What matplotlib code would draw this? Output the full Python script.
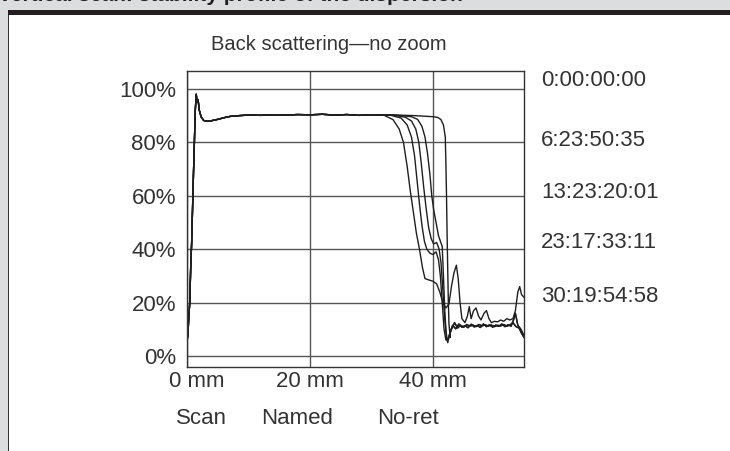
import matplotlib
matplotlib.use("Agg")
import matplotlib.pyplot as plt
import matplotlib.transforms as mtransforms
from matplotlib.patches import Rectangle

plt.rcParams['font.family'] = ['Liberation Sans', 'DejaVu Sans']

# ---- data (mm along the tube, backscattering %) ----
scan_times = ['0:00:00:00', '6:23:50:35', '13:23:20:01', '23:17:33:11', '30:19:54:58']
x_ticks = [0, 20, 40]
x_tick_labels = ['0 mm', '20 mm', '40 mm']
y_ticks = [0, 20, 40, 60, 80, 100]
y_tick_labels = ['0%', '20%', '40%', '60%', '80%', '100%']
footer_labels = ['Scan', 'Named', 'No-ret']

# common start of every scan
start_mm = [0.0, 0.15, 0.3, 0.45, 0.6, 0.75, 0.9, 1.05, 1.2, 1.35, 1.5, 1.65, 1.8,
            2.0, 2.3, 2.7, 3.2, 4.0, 5.0, 6.0, 7.0, 8.5, 10.0, 12.0, 14.0, 16.0,
            18.0, 20.0, 22.0, 24.0, 26.0, 28.0, 30.0, 31.5]
start_pct = [5.5, 8, 15, 20, 33, 42, 55, 68, 80, 92, 98, 95, 96, 92, 89.5, 88.2,
             87.9, 88.1, 88.6, 89.2, 89.7, 90.0, 90.2, 90.1, 90.3, 90.2, 90.4, 90.3,
             90.5, 90.2, 90.4, 90.1, 90.3, 90.2]

# clarification front for each scan
drop0_mm = [34.0, 37.0, 40.0, 40.8, 41.3, 41.7, 42.0, 42.1, 42.2, 42.3, 42.4, 42.5, 42.6, 42.8]
drop0_pct = [90.2, 90.0, 89.6, 89.3, 88.5, 86.5, 82, 72, 60, 45, 32, 20, 12, 7]

drop1_mm = [34.0, 36.5, 37.5, 38.2, 38.7, 39.1, 39.5, 39.8, 40.1, 40.5, 40.9, 41.2,
            41.5, 41.7, 41.9, 42.1, 42.3]
drop1_pct = [90.2, 89.6, 88.6, 86, 82, 76, 68, 60, 55, 50, 45, 43, 41, 30, 18, 10, 6]

drop2_mm = [33.5, 35.5, 36.5, 37.2, 37.7, 38.1, 38.5, 38.9, 39.3, 39.7, 40.1, 40.6,
            41.0, 41.3, 41.6, 41.9, 42.2]
drop2_pct = [90.2, 89.4, 88, 85, 80, 72, 63, 55, 48, 44, 42, 42.5, 40, 35, 25, 14, 7]

drop3_mm = [33.0, 34.8, 35.8, 36.5, 37.0, 37.4, 37.8, 38.2, 38.6, 39.0, 39.5, 40.0,
            40.5, 40.9, 41.2, 41.5, 41.8, 42.1]
drop3_pct = [90.2, 89.1, 86.5, 82, 75, 66, 57, 49, 43, 40, 38.5, 38, 39, 36, 30, 20, 10, 6]

drop4_mm = [32.0, 33.5, 34.5, 35.2, 35.8, 36.3, 36.8, 37.3, 37.8, 38.3, 38.7, 39.3,
            40.0, 40.6, 41.1, 41.6, 42.1, 42.6, 43.0, 43.4, 43.8, 44.1, 44.4, 44.7,
            45.2, 45.6, 45.9, 46.2, 46.6, 47.0, 47.4, 47.8, 48.3, 48.7, 49.1, 49.5,
            50.0, 50.5, 51.0, 51.5, 52.0, 52.5, 53.0, 53.4, 53.8, 54.1, 54.4, 54.8]
drop4_pct = [90.2, 88.5, 85, 80, 71, 62, 54, 46, 40, 33, 29, 28.5, 28, 27, 24, 20,
             18, 19.5, 26, 31, 34, 29, 20, 14, 12.5, 15, 18.5, 14, 17, 18, 15, 13.5,
             16, 17, 14, 12.5, 13, 12.8, 13.5, 13, 14, 13.5, 14, 17, 24, 26, 23, 22]

# settled bottom region (two slightly different noisy tails)
tail_a_mm = [42.4, 42.7, 43.0, 43.5, 44.0, 44.5, 45.0, 45.5, 46.0, 46.5, 47.0, 47.5,
             48.0, 48.5, 49.0, 49.5, 50.0, 50.5, 51.0, 51.5, 52.0, 52.5, 53.0, 53.5,
             54.0, 54.4, 54.8]
tail_a_pct = [5, 8, 10, 12.5, 10.5, 11.5, 10.8, 11.8, 11.2, 11.6, 11.0, 11.8, 11.3,
              11.7, 11.2, 11.6, 11.0, 11.5, 11.3, 11.8, 11.2, 11.6, 12.5, 11.0, 10.5,
              8.5, 7]
tail_b_mm = [42.5, 42.8, 43.2, 43.7, 44.2, 44.7, 45.2, 45.7, 46.2, 46.7, 47.2, 47.7,
             48.2, 48.7, 49.2, 49.7, 50.2, 50.7, 51.2, 51.7, 52.2, 52.7, 53.1, 53.4,
             53.8, 54.3, 54.8]
tail_b_pct = [6.5, 9, 11.5, 10.2, 12.0, 10.8, 11.4, 10.6, 11.9, 10.9, 11.5, 10.7,
              12.0, 11.0, 11.7, 10.8, 11.6, 11.1, 12.0, 11.0, 11.7, 11.2, 13.5, 16,
              11.5, 10.0, 7.5]

curves_mm = [
    start_mm + drop0_mm + tail_a_mm[1:],
    start_mm + drop1_mm + tail_b_mm,
    start_mm + drop2_mm + tail_a_mm,
    start_mm + drop3_mm + tail_b_mm,
    start_mm + drop4_mm,
]
curves_pct = [
    start_pct + drop0_pct + tail_a_pct[1:],
    start_pct + drop1_pct + tail_b_pct,
    start_pct + drop2_pct + tail_a_pct,
    start_pct + drop3_pct + tail_b_pct,
    start_pct + drop4_pct,
]

W, H = 730, 451
fig = plt.figure(figsize=(W / 100, H / 100), dpi=100)
fig.patch.set_facecolor('#dcdddf')

# panel frame: white area with dark top bar (behind the axes)
fig.patches.append(Rectangle((9 / W, 0), 1, 1 - 15 / H, transform=fig.transFigure,
                             facecolor='white', edgecolor='none', zorder=-3))
fig.patches.append(Rectangle((8 / W, 1 - 15 / H), 1, 5 / H, transform=fig.transFigure,
                             facecolor='#231f20', edgecolor='none', zorder=-2))
fig.patches.append(Rectangle((8 / W, 0), 1.2 / W, 1 - 15 / H, transform=fig.transFigure,
                             facecolor='#333333', edgecolor='none', zorder=-2))

# header text, mostly cut off by the top edge
fig.text(-2 / W, 1 - 1 / H, 'Vertical scan: stability profile of the dispersion',
         fontsize=15, fontweight='bold', color='#231f20', va='baseline', ha='left')

ax = fig.add_axes([187 / W, 1 - 367 / H, (524 - 187) / W, (367 - 71) / H])
ax.set_zorder(5)
ax.set_facecolor('white')
for mm, pct in zip(curves_mm, curves_pct):
    ax.plot(mm, pct, color='#1e1e1e', linewidth=1.0, solid_joinstyle='round')

ax.set_xlim(0, 54.8)
ax.set_ylim(-4.1, 106.7)
ax.set_xticks(x_ticks)
ax.set_xticklabels(x_tick_labels)
ax.set_yticks(y_ticks)
ax.set_yticklabels(y_tick_labels)
ax.tick_params(length=0, labelsize=16, labelcolor='#333333')
ax.tick_params(axis='y', pad=8)
ax.tick_params(axis='x', pad=3)
ax.grid(True, color='#555555', linewidth=1.0)
ax.set_axisbelow(True)
for sp in ax.spines.values():
    sp.set_color('#333333')
    sp.set_linewidth(1.0)

# the "0 mm" label sits a little right of the axis edge
first = ax.get_xticklabels()[0]
first.set_transform(first.get_transform() +
                    mtransforms.ScaledTranslation(10 / 100, 0, fig.dpi_scale_trans))

fig.text(211 / W, 1 - 44 / H, 'Back scattering\u2014no zoom', fontsize=14.5,
         color='#333333', ha='left', va='center')

# scan time labels on the right
time_y = [80, 140, 192, 243, 297]
for label, yy in zip(scan_times, time_y):
    fig.text(541 / W, 1 - yy / H, label, fontsize=16, color='#333333',
             ha='left', va='center')

# footer labels
footer_x = [201, 297, 408]
for label, xx in zip(footer_labels, footer_x):
    fig.text(xx / W, 1 - 418 / H, label, fontsize=16, color='#333333',
             ha='center', va='center')

fig.savefig('out.png', dpi=100, facecolor=fig.get_facecolor())
